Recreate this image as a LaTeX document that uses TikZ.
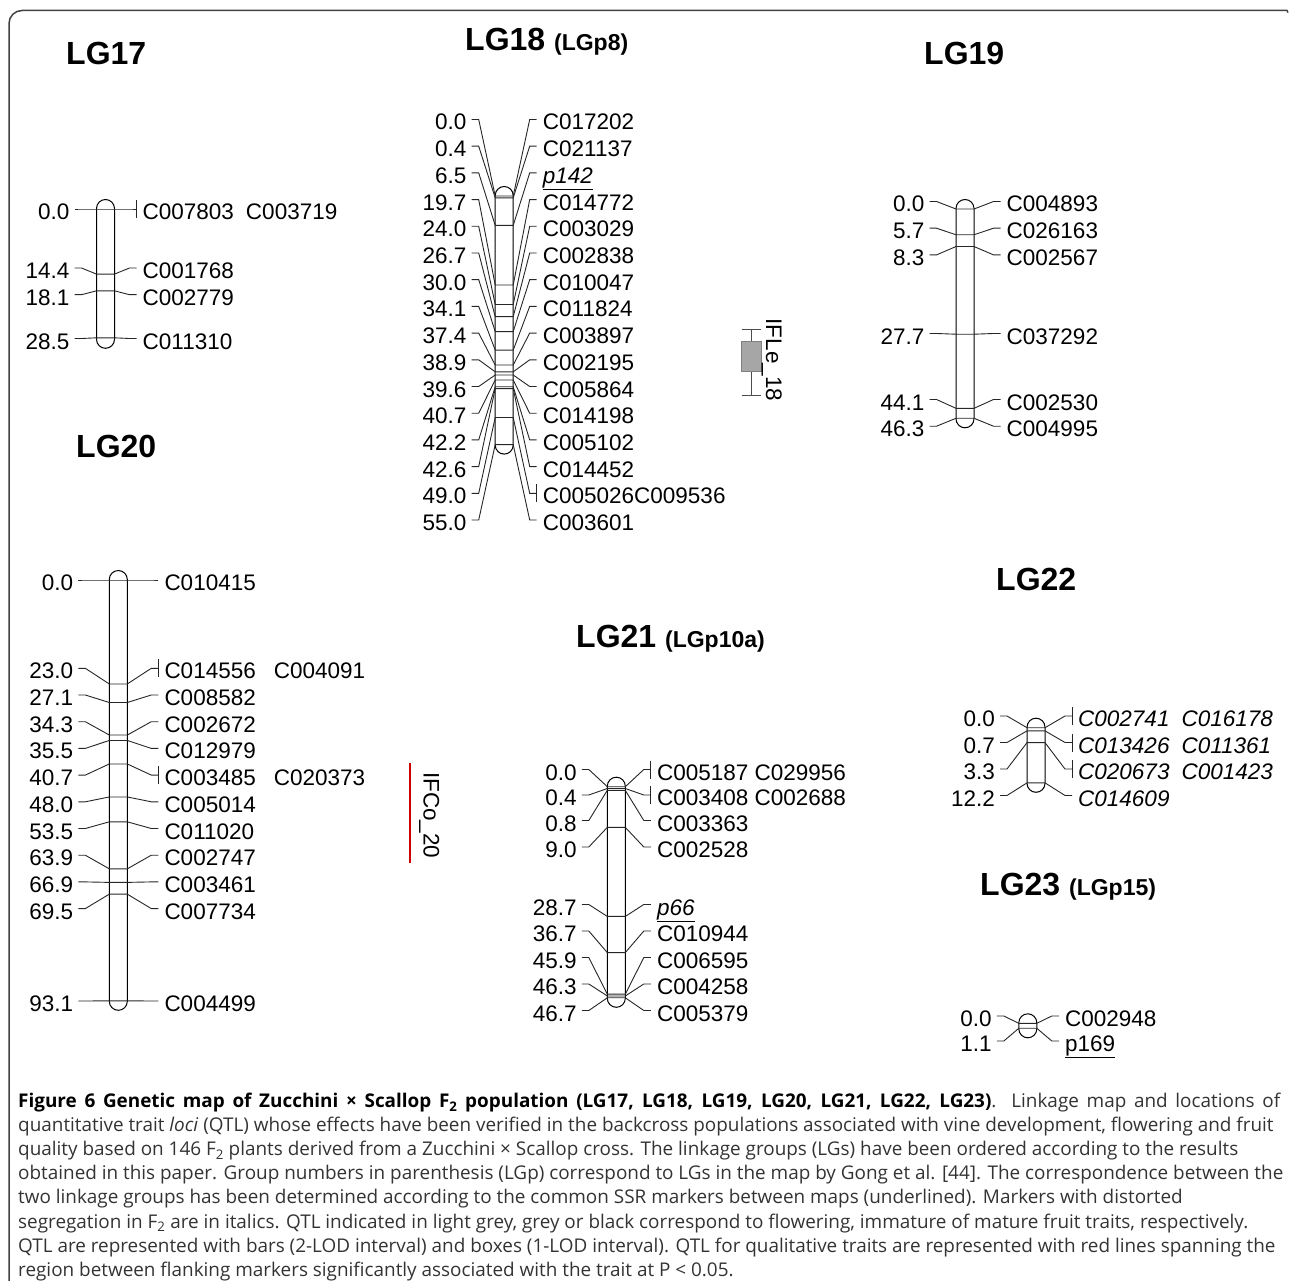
\documentclass[tikz,border=0pt]{standalone}
\usepackage{fontspec}
\setmainfont{Liberation Sans}
\newfontfamily\capfont{Open Sans}
\usetikzlibrary{calc}

\begin{document}
\begin{tikzpicture}[
  x=1pt, y=-1pt,
  font=\fontsize{22.5}{26}\selectfont,
  link/.style={draw=black!85, line width=0.9pt},
  chrom/.style={draw=black, line width=1pt, rounded corners=9pt},
  cmlab/.style={anchor=east, inner xsep=5pt, inner ysep=0pt, text height=21pt, text depth=0pt},
  mklab/.style={anchor=west, inner xsep=6pt, inner ysep=0pt, text height=21pt, text depth=0pt},
  lgtitle/.style={anchor=base west, inner sep=0pt, font=\fontsize{32}{36}\selectfont\bfseries},
  qtlname/.style={rotate=-90, inner sep=0pt, text height=16pt, text depth=4pt},
  caption/.style={anchor=base west, inner sep=0pt, text=black!80, font=\capfont\fontsize{18.9}{22}\selectfont}
]
\useasboundingbox (0,0) rectangle (1290,1281);
\draw[black!75, line width=1.5pt] (9,1281) -- (9,23.5) arc[start angle=180, end angle=270, radius=13] -- (1287,10.5) -- (1288,12.5);

% group titles
\node[lgtitle] (t17) at (66,64.5) {LG17};
\node[lgtitle] (t18) at (465,51) {LG18 {\fontsize{23}{26}\selectfont (LGp8)}};
\node[lgtitle] (t19) at (924,64.5) {LG19};
\node[lgtitle] (t20) at (76,457.5) {LG20};
\node[lgtitle] (t21) at (576,647) {LG21 {\fontsize{23}{26}\selectfont (LGp10a)}};
\node[lgtitle] (t22) at (996,590.5) {LG22};
\node[lgtitle] (t23) at (980,895) {LG23 {\fontsize{23}{26}\selectfont (LGp15)}};

% LG17
\draw[chrom] (96.5,199.5) rectangle (114.5,348.3);
\foreach \cm/\ly/\mk [count=\i] in {0.0/209/C007803\hspace{12pt}C003719, 14.4/268/C001768,
  18.1/294.7/C002779, 28.5/338.5/C011310}{
  \pgfmathsetmacro{\my}{209+4.52*\cm}
  \node[cmlab] (a17-\i) at (105.5-31,\ly) {\cm};
  \node[mklab] (b17-\i) at (105.5+31,\ly) {\mk};
  \draw[link] (a17-\i.east) -- ++(7,0) -- (105.5-9,\my) -- (105.5+9,\my) -- ($(b17-\i.west)+(-7,0)$) -- (b17-\i.west);
}
\draw[link] ($(b17-1.west)+(0,-9)$) -- ($(b17-1.west)+(0,9)$);

% LG18
\draw[chrom] (495.2,186.5) rectangle (513.2,454.1);
\foreach \cm/\ly/\mk [count=\i] in {0.0/119.5/C017202, 0.4/146.2/C021137, 6.5/172.9/\underline{\textit{p142}},
  19.7/199.6/C014772, 24.0/226.3/C003029, 26.7/253/C002838, 30.0/279.7/C010047,
  34.1/306.4/C011824, 37.4/333.1/C003897, 38.9/359.8/C002195, 39.6/386.5/C005864,
  40.7/413.2/C014198, 42.2/439.9/C005102, 42.6/466.6/C014452, 49.0/493.3/C005026C009536,
  55.0/520/C003601}{
  \pgfmathsetmacro{\my}{196+4.52*\cm}
  \node[cmlab] (a18-\i) at (504.2-32.5,\ly) {\cm};
  \node[mklab] (b18-\i) at (504.2+32.5,\ly) {\mk};
  \draw[link] (a18-\i.east) -- ++(7,0) -- (504.2-9,\my) -- (504.2+9,\my) -- ($(b18-\i.west)+(-7,0)$) -- (b18-\i.west);
}
\draw[link] ($(b18-15.west)+(0,-9)$) -- ($(b18-15.west)+(0,9)$);

% QTL on LG18
\draw[black!70, line width=0.9pt] (751.7,329.3) -- (751.7,395) (741.7,329.3) -- (760.7,329.3) (741.7,395) -- (760.7,395);
\filldraw[fill=black!35, draw=black!50, line width=0.9pt] (741,341.7) rectangle (761.7,371);
\node[qtlname] (q18) at (772,360) {IFLe\_18};

% LG19
\draw[chrom] (956,199.5) rectangle (974,427.8);
\foreach \cm/\ly/\mk [count=\i] in {0.0/201.5/C004893, 5.7/228.2/C026163, 8.3/254.9/C002567,
  27.7/333.5/C037292, 44.1/399.5/C002530, 46.3/426.2/C004995}{
  \pgfmathsetmacro{\my}{209+4.52*\cm}
  \node[cmlab] (a19-\i) at (965-35.5,\ly) {\cm};
  \node[mklab] (b19-\i) at (965+35.5,\ly) {\mk};
  \draw[link] (a19-\i.east) -- ++(7,0) -- (965-9,\my) -- (965+9,\my) -- ($(b19-\i.west)+(-7,0)$) -- (b19-\i.west);
}

% LG20
\draw[chrom] (109.3,570.5) rectangle (127.3,1010.3);
\foreach \cm/\ly/\mk [count=\i] in {0.0/580/C010415, 23.0/668.3/C014556\hspace{18pt}C004091,
  27.1/695/C008582, 34.3/721.7/C002672, 35.5/748.4/C012979, 40.7/775.1/C003485\hspace{18pt}C020373,
  48.0/801.8/C005014, 53.5/828.5/C011020, 63.9/855.2/C002747, 66.9/881.9/C003461,
  69.5/908.6/C007734, 93.1/1001/C004499}{
  \pgfmathsetmacro{\my}{580+4.52*\cm}
  \node[cmlab] (a20-\i) at (118.3-40,\ly) {\cm};
  \node[mklab] (b20-\i) at (118.3+40,\ly) {\mk};
  \draw[link] (a20-\i.east) -- ++(7,0) -- (118.3-9,\my) -- (118.3+9,\my) -- ($(b20-\i.west)+(-7,0)$) -- (b20-\i.west);
}
\draw[link] ($(b20-2.west)+(0,-9)$) -- ($(b20-2.west)+(0,9)$);
\draw[link] ($(b20-6.west)+(0,-9)$) -- ($(b20-6.west)+(0,9)$);

% QTL on LG20
\draw[red!80!black, line width=1.5pt] (410,763.3) -- (410,863.3);
\node[qtlname] (q20) at (429.5,815.3) {IFCo\_20};

% LG21
\draw[chrom] (607.3,777.2) rectangle (625.3,1007.3);
\foreach \cm/\ly/\mk [count=\i] in {0.0/769.5/C005187 C029956, 0.4/795/C003408 C002688,
  0.8/820.5/C003363, 9.0/847/C002528, 28.7/904.5/\underline{\textit{p66}}, 36.7/931/C010944,
  45.9/957.5/C006595, 46.3/984/C004258, 46.7/1010.5/C005379}{
  \pgfmathsetmacro{\my}{786.7+4.52*\cm}
  \node[cmlab] (a21-\i) at (616.3-34.5,\ly) {\cm};
  \node[mklab] (b21-\i) at (616.3+34.5,\ly) {\mk};
  \draw[link] (a21-\i.east) -- ++(7,0) -- (616.3-9,\my) -- (616.3+9,\my) -- ($(b21-\i.west)+(-7,0)$) -- (b21-\i.west);
}
\draw[link] ($(b21-1.west)+(0,-9)$) -- ($(b21-1.west)+(0,9)$);
\draw[link] ($(b21-2.west)+(0,-9)$) -- ($(b21-2.west)+(0,9)$);

% LG22
\draw[chrom] (1027,718.2) rectangle (1045,792.3);
\foreach \cm/\ly/\mk [count=\i] in {0.0/716/\textit{C002741\hspace{12pt}C016178}, 0.7/742.5/\textit{C013426\hspace{12pt}C011361},
  3.3/769/\textit{C020673\hspace{12pt}C001423}, 12.2/795.5/\textit{C014609}}{
  \pgfmathsetmacro{\my}{727.7+4.52*\cm}
  \node[cmlab] (a22-\i) at (1036-36,\ly) {\cm};
  \node[mklab] (b22-\i) at (1036+36,\ly) {\mk};
  \draw[link] (a22-\i.east) -- ++(7,0) -- (1036-9,\my) -- (1036+9,\my) -- ($(b22-\i.west)+(-7,0)$) -- (b22-\i.west);
}
\foreach \i in {1,2,3}
  \draw[link] ($(b22-\i.west)+(0,-9)$) -- ($(b22-\i.west)+(0,9)$);

% LG23
\draw[chrom] (1018.8,1013.8) rectangle (1036.8,1037.8);
\foreach \cm/\ly/\mk [count=\i] in {0.0/1016/C002948, 1.1/1041/\underline{p169}}{
  \pgfmathsetmacro{\my}{1023.3+4.52*\cm}
  \node[cmlab] (a23-\i) at (1027.8-31,\ly) {\cm};
  \node[mklab] (b23-\i) at (1027.8+31,\ly) {\mk};
  \draw[link] (a23-\i.east) -- ++(7,0) -- (1027.8-9,\my) -- (1027.8+9,\my) -- ($(b23-\i.west)+(-7,0)$) -- (b23-\i.west);
}

% caption
\node[caption] (cap-1) at (18,1107.5) {\makebox[1262pt][s]{{\bfseries\color{black}Figure 6 Genetic map of Zucchini × Scallop F\textsubscript{2} population (LG17, LG18, LG19, LG20, LG21, LG22, LG23)}. Linkage map and locations of}};
\foreach \txt [count=\i from 2] in {
  {quantitative trait \textit{loci} (QTL) whose effects have been verified in the backcross populations associated with vine development, flowering and fruit},
  {quality based on 146 F\textsubscript{2} plants derived from a Zucchini × Scallop cross. The linkage groups (LGs) have been ordered according to the results},
  {obtained in this paper. Group numbers in parenthesis (LGp) correspond to LGs in the map by Gong et al. [44]. The correspondence between the},
  {two linkage groups has been determined according to the common SSR markers between maps (underlined). Markers with distorted},
  {segregation in F\textsubscript{2} are in italics. QTL indicated in light grey, grey or black correspond to flowering, immature of mature fruit traits, respectively.},
  {QTL are represented with bars (2-LOD interval) and boxes (1-LOD interval). QTL for qualitative traits are represented with red lines spanning the},
  {region between flanking markers significantly associated with the trait at P < 0.05.}
}{
  \node[caption] (cap-\i) at (18,1107.5+24.1*\i-24.1) {\txt};
}
\end{tikzpicture}
\end{document}
